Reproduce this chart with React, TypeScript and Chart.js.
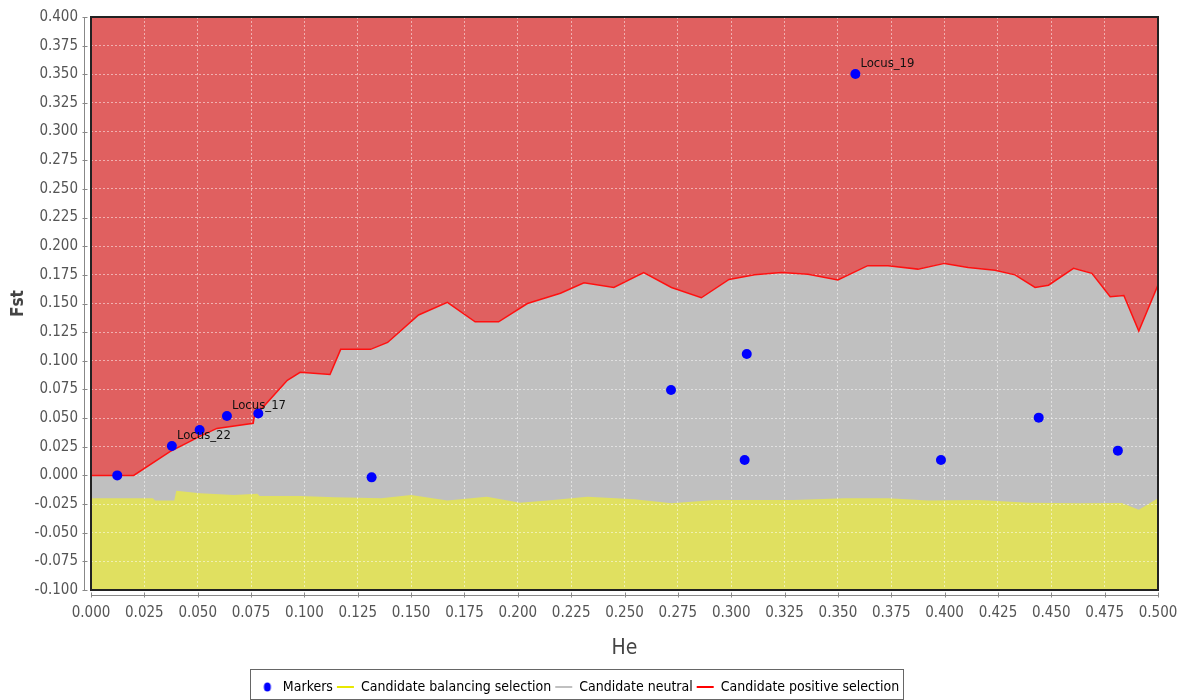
import React, { useEffect, useRef } from "react";
import { Chart, registerables } from "chart.js";

Chart.register(...registerables);

// ---- data ----
const upperHe = [0, 0.02, 0.037, 0.051, 0.059, 0.076, 0.0765, 0.092, 0.098, 0.112, 0.117, 0.131, 0.139, 0.1535, 0.167, 0.18, 0.191, 0.2045, 0.22, 0.231, 0.245, 0.259, 0.272, 0.286, 0.299, 0.311, 0.3235, 0.336, 0.35, 0.364, 0.3735, 0.3875, 0.4, 0.411, 0.4236, 0.433, 0.4424, 0.4487, 0.4604, 0.469, 0.4776, 0.484, 0.491, 0.5];
const upperFst = [0.0, 0.0, 0.0207, 0.034, 0.041, 0.0455, 0.051, 0.083, 0.09, 0.088, 0.11, 0.11, 0.116, 0.14, 0.151, 0.134, 0.134, 0.15, 0.159, 0.168, 0.164, 0.177, 0.164, 0.155, 0.171, 0.175, 0.177, 0.1755, 0.1705, 0.183, 0.183, 0.18, 0.185, 0.1815, 0.179, 0.175, 0.164, 0.166, 0.1807, 0.1763, 0.156, 0.157, 0.126, 0.166];

const lowerHe = [0, 0.029, 0.030, 0.039, 0.040, 0.051, 0.067, 0.078, 0.079, 0.098, 0.114, 0.136, 0.15, 0.167, 0.1855, 0.201, 0.214, 0.2327, 0.2546, 0.272, 0.2925, 0.308, 0.3295, 0.3532, 0.3736, 0.3924, 0.4158, 0.4393, 0.4628, 0.483, 0.491, 0.5];
const lowerFst = [-0.02, -0.02, -0.022, -0.022, -0.0133, -0.0155, -0.017, -0.016, -0.018, -0.018, -0.019, -0.02, -0.017, -0.022, -0.0186, -0.0238, -0.022, -0.0186, -0.0209, -0.0244, -0.0215, -0.0215, -0.0215, -0.02, -0.02, -0.022, -0.0215, -0.0238, -0.0244, -0.024, -0.03, -0.02];

const markerHe = [0.0123, 0.0379, 0.0509, 0.0637, 0.0784, 0.1315, 0.2718, 0.3073, 0.3063, 0.3582, 0.3983, 0.4441, 0.4812];
const markerFst = [0.0, 0.0257, 0.0396, 0.0518, 0.054, -0.0017, 0.0745, 0.106, 0.0134, 0.3502, 0.0134, 0.0504, 0.0216];
const markerNames = ["", "Locus_22", "", "Locus_17", "", "", "", "", "", "Locus_19", "", "", ""];

const seriesNames = ["Markers", "Candidate balancing selection", "Candidate neutral", "Candidate positive selection"];
const xTitle = "He";
const yTitle = "Fst";
const xMin = 0, xMax = 0.5, yMin = -0.1, yMax = 0.4, tickStep = 0.025;

const FONT = "'DejaVu Sans Condensed', 'Liberation Sans Narrow', 'DejaVu Sans', sans-serif";
const RED_FILL = "#e06060";
const GRAY_FILL = "#c0c0c0";
const YELLOW_FILL = "#e0e060";
const AXIS_GRAY = "#888";

const pts = (xs: number[], ys: number[]) => xs.map((x, i) => ({ x, y: ys[i] }));

function makeDot(): HTMLCanvasElement {
  const c = document.createElement("canvas");
  c.width = 10; c.height = 12;
  const g = c.getContext("2d")!;
  g.fillStyle = "#0000ff";
  g.beginPath();
  g.ellipse(5, 6, 3.5, 4.5, 0, 0, Math.PI * 2);
  g.fill();
  return c;
}

const framePlugin = {
  id: "frameAndLegendBox",
  afterDraw(chart: any) {
    const { ctx, chartArea: a } = chart;
    ctx.save();
    // offset axis lines with inward ticks, positioned by the scales
    const xs = chart.scales.x, ys = chart.scales.y;
    ctx.strokeStyle = AXIS_GRAY;
    ctx.lineWidth = 1;
    const axX = Math.round(a.left) - 6.5;
    const axY = Math.round(a.bottom) + 5.5;
    ctx.beginPath();
    ctx.moveTo(axX, a.top);
    ctx.lineTo(axX, a.bottom);
    ys.ticks.forEach((t: any) => {
      const py = Math.round(ys.getPixelForValue(t.value)) + 0.5;
      ctx.moveTo(axX - 2, py);
      ctx.lineTo(axX + 3, py);
    });
    ctx.moveTo(a.left, axY);
    ctx.lineTo(a.right, axY);
    xs.ticks.forEach((t: any) => {
      const px = Math.round(xs.getPixelForValue(t.value)) + 0.5;
      ctx.moveTo(px, axY + 2);
      ctx.lineTo(px, axY - 3);
    });
    ctx.stroke();
    // plot frame
    ctx.strokeStyle = "#222";
    ctx.lineWidth = 2;
    ctx.strokeRect(a.left, a.top, a.right - a.left, a.bottom - a.top);
    // legend box
    const lg = chart.legend;
    if (lg && lg.legendHitBoxes && lg.legendHitBoxes.length) {
      const b = lg.legendHitBoxes;
      const l = Math.min(...b.map((h: any) => h.left)) - 9;
      const r = Math.max(...b.map((h: any) => h.left + h.width)) + 4;
      const t = Math.min(...b.map((h: any) => h.top)) - 11;
      const bt = Math.max(...b.map((h: any) => h.top + h.height)) + 5;
      ctx.strokeStyle = "#666";
      ctx.lineWidth = 1;
      ctx.strokeRect(Math.round(l) + 0.5, Math.round(t) + 0.5, Math.round(r - l), Math.round(bt - t));
    }
    ctx.restore();
  },
};

const pointLabelPlugin = {
  id: "pointLabels",
  afterDatasetsDraw(chart: any) {
    const meta = chart.getDatasetMeta(0);
    const ctx = chart.ctx;
    ctx.save();
    ctx.font = `13px ${FONT}`;
    ctx.fillStyle = "#111";
    ctx.textAlign = "left";
    ctx.textBaseline = "alphabetic";
    meta.data.forEach((el: any, i: number) => {
      const name = markerNames[i];
      if (name) ctx.fillText(name, el.x + 5, el.y - 7);
    });
    ctx.restore();
  },
};

export default function App() {
  const ref = useRef<HTMLCanvasElement | null>(null);
  useEffect(() => {
    if (!ref.current) return;
    const dot = makeDot();
    const chart = new Chart(ref.current, {
      type: "line",
      data: {
        datasets: [
          {
            label: seriesNames[0],
            data: pts(markerHe, markerFst),
            showLine: false,
            pointRadius: 5,
            pointBackgroundColor: "#0000ff",
            pointBorderColor: "#0000ff",
            pointBorderWidth: 0,
            fill: false,
          },
          {
            label: seriesNames[1],
            data: pts(lowerHe, lowerFst),
            borderWidth: 0,
            borderColor: "rgba(0,0,0,0)",
            backgroundColor: YELLOW_FILL,
            pointRadius: 0,
            fill: "start",
            tension: 0,
          },
          {
            label: seriesNames[2],
            data: pts(upperHe, upperFst),
            borderWidth: 0,
            borderColor: "rgba(0,0,0,0)",
            backgroundColor: GRAY_FILL,
            pointRadius: 0,
            fill: "start",
            tension: 0,
          },
          {
            label: seriesNames[3],
            data: pts(upperHe, upperFst),
            borderWidth: 1.5,
            borderColor: "#ff1010",
            backgroundColor: RED_FILL,
            pointRadius: 0,
            fill: "end",
            tension: 0,
          },
        ],
      },
      options: {
        responsive: false,
        animation: false,
        layout: { padding: { top: 17, right: 19, bottom: -4, left: 0 } },
        scales: {
          x: {
            type: "linear",
            min: xMin,
            max: xMax,
            afterFit(scale: any) {
              scale.height = 86;
              scale.paddingLeft = 0;
              scale.paddingRight = 0;
            },
            ticks: {
              stepSize: tickStep,
              autoSkip: false,
              maxRotation: 0,
              padding: 8,
              color: "#555",
              font: { family: FONT, size: 15 },
              callback: (v: any) => Number(v).toFixed(3),
            },
            grid: {
              color: "rgba(255,255,255,0.5)",
              lineWidth: 1,
              tickLength: 6,
              tickColor: "rgba(0,0,0,0)",
            },
            border: { display: false, dash: [2, 2] },
            title: {
              display: true,
              text: xTitle,
              color: "#444",
              font: { family: FONT, size: 21 },
              padding: { top: 4, bottom: 15 },
            },
          },
          y: {
            type: "linear",
            min: yMin,
            max: yMax,
            afterFit(scale: any) {
              scale.width = 91;
              scale.paddingTop = 0;
              scale.paddingBottom = 0;
            },
            ticks: {
              stepSize: tickStep,
              autoSkip: false,
              padding: 7,
              color: "#555",
              font: { family: FONT, size: 15 },
              callback: (v: any) => Number(v).toFixed(3),
            },
            grid: {
              color: "rgba(255,255,255,0.5)",
              lineWidth: 1,
              tickLength: 6,
              tickColor: "rgba(0,0,0,0)",
            },
            border: { display: false, dash: [2, 2] },
            title: {
              display: true,
              text: yTitle,
              color: "#444",
              font: { family: FONT, size: 17, weight: "bold" },
              padding: { top: 8, bottom: 0 },
            },
          },
        },
        plugins: {
          filler: { drawTime: "beforeDraw", propagate: false },
          tooltip: { enabled: false },
          legend: {
            position: "bottom",
            labels: {
              usePointStyle: true,
              pointStyleWidth: 17,
              boxHeight: 10,
              padding: 4,
              color: "#222",
              font: { family: FONT, size: 14 },
              generateLabels: () => [
                { text: seriesNames[0], pointStyle: dot, fillStyle: "#0000ff", strokeStyle: "#0000ff", lineWidth: 0, hidden: false, datasetIndex: 0 },
                { text: seriesNames[1], pointStyle: "line", fillStyle: "#ffff00", strokeStyle: "#e8e800", lineWidth: 2, hidden: false, datasetIndex: 1 },
                { text: seriesNames[2], pointStyle: "line", fillStyle: GRAY_FILL, strokeStyle: GRAY_FILL, lineWidth: 2, hidden: false, datasetIndex: 2 },
                { text: seriesNames[3], pointStyle: "line", fillStyle: "#ff0000", strokeStyle: "#ff0000", lineWidth: 2, hidden: false, datasetIndex: 3 },
              ] as any,
            },
          },
        },
      } as any,
      plugins: [framePlugin, pointLabelPlugin],
    });
    return () => chart.destroy();
  }, []);
  return (
    <div style={{ position: "fixed", left: 0, top: 0, width: 1177, height: 700, background: "#fff" }}>
      <canvas ref={ref} width={1177} height={700} />
    </div>
  );
}
